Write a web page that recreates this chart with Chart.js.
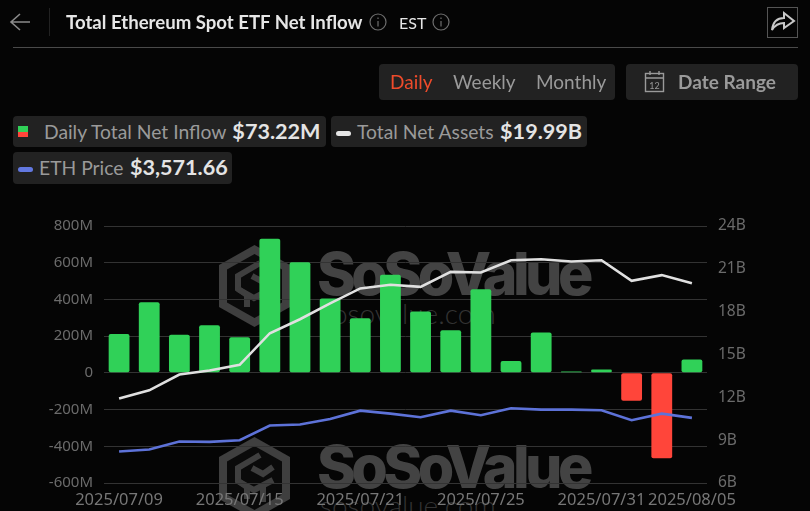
<!DOCTYPE html>
<html>
<head>
<meta charset="utf-8">
<title>Total Ethereum Spot ETF Net Inflow</title>
<script src="https://cdn.jsdelivr.net/npm/chart.js@4"></script>
<style>
  html, body { margin: 0; padding: 0; background: #050505; }
  #page { position: relative; width: 810px; height: 511px; overflow: hidden; font-family: Lato, sans-serif; color: #9a9a9a; }
  #page > * { position: absolute; }
  canvas { left: 0; top: 0; }
  .chip { background: #222; border-radius: 4px; height: 31px; line-height: 31px; font-size: 19.3px; white-space: nowrap; box-sizing: border-box; }
  .chip b { color: #e4e4e4; font-size: 21.6px; font-weight: 700; margin-left: 1.5px; }
  .dash { display: inline-block; width: 15px; height: 5px; border-radius: 3px; vertical-align: 3px; margin: 0 6px 0 5px; }
  .wm { color: #434343; font-family: Inter, sans-serif; font-weight: 800; font-size: 59px; letter-spacing: -4.6px; line-height: 59px; }
  .wmsub { color: #333; font-family: Lato, sans-serif; font-weight: 300; font-size: 28px; line-height: 28px; }
</style>
</head>
<body>
<div id="page">
  <!-- watermarks sit under the transparent canvas -->
  <svg style="left:219px;top:245px" width="71" height="82" viewBox="0 0 71 82"><use href="#logo"/></svg>
  <svg style="left:219px;top:437px" width="71" height="82" viewBox="0 0 71 82">
    <g id="logo">
      <path d="M35.5 0 L71 20 L71 62 L35.5 82 L0 62 L0 20 Z" fill="#3f3f3f"/>
      <path d="M35.5 9 L63 24.5 L63 57.5 L35.5 73 L8 57.5 L8 24.5 Z" fill="#0a0a0a"/>
      <g fill="none" stroke="#3f3f3f" stroke-width="6">
        <path d="M41 18 L19 31 L19 44 L28 50 L28 62"/>
        <path d="M33 31 L44 37 L54 30"/>
        <path d="M19 44 L35 53 L54 43"/>
        <path d="M44 49 L44 65"/>
      </g>
    </g>
  </svg>
  <div class="wm" style="left:317px;top:244px">SoSoValue</div>
  <div class="wm" style="left:317px;top:437px">SoSoValue</div>
  <div class="wmsub" style="left:320px;top:299px">sosovalue.com</div>
  <div class="wmsub" style="left:320px;top:491px">sosovalue.com</div>

  <canvas id="chart" width="810" height="511"></canvas>

  <svg style="left:9px;top:11px" width="22" height="22" viewBox="0 0 22 22" fill="none" stroke="#8a8a8a" stroke-width="1.6"><path d="M21 11 H2 M11 3 L2 11 L11 19"/></svg>
  <div style="left:49px;top:8px;width:1px;height:28px;background:#222"></div>
  <div style="left:66px;top:11px;font-size:18.6px;font-weight:700;color:#e6e6e6;line-height:22px;white-space:nowrap">Total Ethereum Spot ETF Net Inflow</div>
  <svg style="left:369px;top:13px" width="18" height="18" viewBox="0 0 18 18" fill="none" stroke="#6e6e6e" stroke-width="1.2"><circle cx="9" cy="9" r="8"/><path d="M9 8 V13.5 M9 4.5 V6"/></svg>
  <div style="left:399px;top:12px;font-size:16px;font-weight:400;color:#e6e6e6;line-height:22px">EST</div>
  <svg style="left:432px;top:13px" width="18" height="18" viewBox="0 0 18 18" fill="none" stroke="#6e6e6e" stroke-width="1.2"><circle cx="9" cy="9" r="8"/><path d="M9 8 V13.5 M9 4.5 V6"/></svg>
  <div style="left:767px;top:7px;width:29px;height:29px;border:1px solid #555"></div>
  <svg style="left:770px;top:10px" width="26" height="24" viewBox="0 0 26 24" fill="none" stroke="#c8c8c8" stroke-width="2"><path d="M2 20 C3 11 8 8 14 8 V3 L24 11 L14 18 V13 C9 13 5 15 2 20 Z"/></svg>
  <div style="left:13px;top:47px;width:785px;height:1px;background:#4a4a4a"></div>

  <div style="left:379px;top:64px;width:236px;height:36px;background:#222;border-radius:4px"></div>
  <div style="left:390px;top:70px;font-size:19px;line-height:24px;color:#ee4b2b">Daily</div>
  <div style="left:453px;top:70px;font-size:19px;line-height:24px">Weekly</div>
  <div style="left:536px;top:70px;font-size:19px;line-height:24px">Monthly</div>
  <div style="left:626px;top:64px;width:172px;height:36px;background:#222;border-radius:4px"></div>
  <svg style="left:643px;top:70px" width="24" height="24" viewBox="0 0 24 24" fill="none" stroke="#9a9a9a" stroke-width="1.4"><rect x="2.5" y="3.5" width="18" height="18"/><path d="M2.5 8 H20.5 M7 1 V5 M16 1 V5"/><text x="11.5" y="19" font-size="9" font-family="Lato" fill="#9a9a9a" stroke="none" text-anchor="middle">12</text></svg>
  <div style="left:678px;top:70px;font-size:19px;font-weight:700;line-height:24px">Date Range</div>

  <div class="chip" style="left:13px;top:116px;width:313px">
    <span style="position:absolute;left:5px;top:10px;width:10px;height:6px;background:#30d158"></span>
    <span style="position:absolute;left:5px;top:16px;width:10px;height:5px;background:#ff453a"></span>
    <span style="margin-left:31px">Daily Total Net Inflow</span> <b>$73.22M</b>
  </div>
  <div class="chip" style="left:331px;top:116px;width:256px"><span class="dash" style="background:#e6e6e6"></span><span>Total Net Assets</span> <b>$19.99B</b></div>
  <div class="chip" style="left:13px;top:152px;width:219px;height:32px"><span class="dash" style="background:#6278e0"></span><span>ETH Price</span> <b>$3,571.66</b></div>
</div>

<script>
// Values
const dates = ['2025/07/09', '2025/07/10', '2025/07/11', '2025/07/14', '2025/07/15', '2025/07/16', '2025/07/17',
    '2025/07/18', '2025/07/21', '2025/07/22', '2025/07/23', '2025/07/24', '2025/07/25', '2025/07/28',
    '2025/07/29', '2025/07/30', '2025/07/31', '2025/08/01', '2025/08/04', '2025/08/05'];
const shownDates = ['2025/07/09', '2025/07/15', '2025/07/21', '2025/07/25', '2025/07/31', '2025/08/05'];
const netInflow = [212, 385, 207, 259, 194, 730, 603, 405, 297, 534, 334, 232, 455, 65, 220, 7, 18, -152, -465, 73.22];
const netAssets = [11.91, 12.49, 13.60, 13.88, 14.28, 16.49, 17.47, 18.58, 19.63, 19.88, 19.74, 20.79, 20.74, 21.60, 21.67, 21.51, 21.60, 20.16, 20.56, 19.99];
const ethPrice = [2761, 2809, 3001, 2993, 3033, 3386, 3410, 3546, 3746, 3674, 3586, 3746, 3634, 3802, 3770, 3770, 3754, 3514, 3674, 3571.66];

const axisColor = '#6b6b6b';

new Chart(document.getElementById('chart'), {
    type: 'bar',
    data: {
        labels: dates,
        datasets: [
            {
                type: 'line',
                label: 'Total Net Assets',
                data: netAssets,
                yAxisID: 'assets',
                borderColor: '#e0e0e0',
                borderWidth: 2.6,
                pointRadius: 0,
                order: 1
            },
            {
                type: 'line',
                label: 'ETH Price',
                data: ethPrice,
                yAxisID: 'price',
                borderColor: '#5d72d8',
                borderWidth: 2.6,
                pointRadius: 0,
                order: 2
            },
            {
                label: 'Daily Total Net Inflow',
                data: netInflow,
                yAxisID: 'inflow',
                backgroundColor: netInflow.map(v => v >= 0 ? '#30d158' : '#ff453a'),
                barPercentage: 0.69,
                categoryPercentage: 1,
                borderRadius: 2,
                borderSkipped: false,
                order: 3
            }
        ]
    },
    options: {
        responsive: false,
        animation: false,
        layout: { padding: { top: 226 } },
        plugins: { legend: { display: false }, tooltip: { enabled: false } },
        scales: {
            x: {
                grid: { display: false, drawTicks: false },
                border: { display: false },
                afterFit: scale => { scale.height = 28; },
                ticks: {
                    autoSkip: false,
                    maxRotation: 0,
                    padding: 7,
                    color: '#777',
                    font: { family: "'Noto Sans', sans-serif", size: 16.5 },
                    callback: function(value) {
                        const label = this.getLabelForValue(value);
                        return shownDates.includes(label) ? label : '';
                    }
                }
            },
            inflow: {
                position: 'left',
                min: -600,
                max: 800,
                afterFit: scale => { scale.width = 104; },
                grid: { color: '#333', drawTicks: false },
                border: { display: false },
                ticks: {
                    stepSize: 200,
                    padding: 11,
                    color: axisColor,
                    font: { family: "'Noto Sans', sans-serif", size: 15 },
                    callback: value => value === 0 ? '0' : value + 'M'
                }
            },
            assets: {
                position: 'right',
                min: 6,
                max: 24,
                afterFit: scale => { scale.width = 103; },
                grid: { display: false, drawTicks: false },
                border: { display: false },
                ticks: {
                    stepSize: 3,
                    padding: 11,
                    color: axisColor,
                    font: { family: "'Noto Sans', sans-serif", size: 15.5 },
                    callback: value => value + 'B'
                }
            },
            price: {
                display: false,
                min: 2000,
                max: 8200
            }
        }
    }
});
</script>
</body>
</html>
